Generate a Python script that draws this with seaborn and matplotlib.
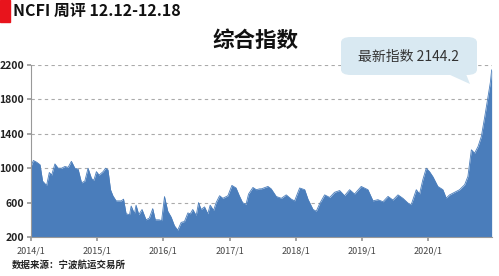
import matplotlib
matplotlib.use("Agg")
import matplotlib.pyplot as plt
import seaborn as sns
import pandas as pd
from matplotlib.patches import FancyBboxPatch, Polygon, Rectangle

sns.set_theme(style="white")
plt.rcParams['font.family'] = ['Noto Sans CJK SC', 'DejaVu Sans']

header = "NCFI 周评 12.12-12.18"
title = "综合指数"
callout = "最新指数 2144.2"
source = "数据来源：宁波航运交易所"

dates = [
    "2014-01-01", "2014-01-14", "2014-02-01", "2014-02-20", "2014-03-06", "2014-03-28",
    "2014-04-12", "2014-04-25", "2014-05-13", "2014-05-31", "2014-06-19", "2014-07-07",
    "2014-07-25", "2014-08-12", "2014-08-31", "2014-09-18", "2014-10-07", "2014-10-25",
    "2014-11-12", "2014-12-01", "2014-12-14", "2014-12-28", "2015-01-12", "2015-02-03",
    "2015-02-17", "2015-03-02", "2015-03-16", "2015-03-29", "2015-04-16", "2015-05-14",
    "2015-05-27", "2015-06-10", "2015-06-29", "2015-07-08", "2015-07-26", "2015-08-04",
    "2015-08-19", "2015-09-06", "2015-09-28", "2015-10-16", "2015-11-04", "2015-11-18",
    "2015-12-10", "2015-12-23", "2016-01-08", "2016-01-26", "2016-02-14", "2016-03-03",
    "2016-03-21", "2016-04-09", "2016-04-27", "2016-05-16", "2016-05-29", "2016-06-12",
    "2016-07-01", "2016-07-14", "2016-07-28", "2016-08-16", "2016-09-03", "2016-09-16",
    "2016-10-05", "2016-10-19", "2016-11-07", "2016-11-25", "2016-12-23", "2017-01-14",
    "2017-02-06", "2017-02-24", "2017-03-14", "2017-04-02", "2017-04-16", "2017-05-10",
    "2017-05-29", "2017-06-16", "2017-06-26", "2017-08-01", "2017-08-19", "2017-09-16",
    "2017-10-14", "2017-11-10", "2017-12-08", "2017-12-26", "2018-01-23", "2018-02-20",
    "2018-03-10", "2018-04-07", "2018-04-25", "2018-05-14", "2018-06-10", "2018-07-08",
    "2018-08-04", "2018-09-01", "2018-09-28", "2018-10-26", "2018-11-22", "2018-12-29",
    "2019-02-04", "2019-03-04", "2019-03-31", "2019-04-28", "2019-05-26", "2019-06-22",
    "2019-07-20", "2019-08-16", "2019-09-13", "2019-10-01", "2019-10-29", "2019-11-16",
    "2019-12-04", "2019-12-23", "2020-01-10", "2020-01-29", "2020-02-25", "2020-03-24",
    "2020-04-11", "2020-04-30", "2020-05-27", "2020-06-24", "2020-07-22", "2020-08-09",
    "2020-08-28", "2020-09-15", "2020-10-04", "2020-10-22", "2020-11-10", "2020-11-28",
    "2020-12-11", "2020-12-18",
]
values = [
    1020, 1090, 1070, 1040, 850, 800,
    950, 920, 1050, 1000, 1000, 1020,
    1010, 1080, 1000, 990, 830, 850,
    1000, 880, 860, 960, 920, 960,
    1000, 980, 750, 680, 620, 620,
    640, 470, 460, 560, 470, 570,
    460, 520, 400, 420, 530, 400,
    400, 390, 670, 500, 430, 330,
    280, 370, 380, 480, 470, 520,
    450, 600, 520, 550, 470, 570,
    510, 600, 680, 650, 680, 800,
    770, 680, 600, 580, 700, 776,
    750, 760, 760, 788, 760, 671,
    650, 690, 640, 620, 770, 750,
    640, 520, 500, 590, 690, 660,
    720, 740, 680, 750, 700, 788,
    750, 620, 634, 610, 672, 630,
    690, 650, 595, 576, 750, 700,
    865, 1000, 960, 900, 788, 750,
    653, 690, 720, 750, 808, 905,
    1214, 1175, 1253, 1368, 1600, 1832,
    2000, 2144.2,
]
year_ticks = ["2014-01-01", "2015-01-01", "2016-01-01", "2017-01-01",
              "2018-01-01", "2019-01-01", "2020-01-01"]
year_labels = ["2014/1", "2015/1", "2016/1", "2017/1", "2018/1", "2019/1", "2020/1"]
y_ticks = [200, 600, 1000, 1400, 1800, 2200]

df = pd.DataFrame({"date": pd.to_datetime(dates), "value": values})

W, H = 499, 276
fig = plt.figure(figsize=(W / 100, H / 100), dpi=100)
ax = fig.add_axes([31 / W, 1 - 237 / H, (492 - 31) / W, (237 - 65) / H])

blue = "#4a7dbb"
sns.lineplot(data=df, x="date", y="value", ax=ax, color=blue, linewidth=0.6)
ax.fill_between(df["date"], 200, df["value"], color=blue, linewidth=0)

ax.set_ylim(200, 2200)
ax.set_xlim(pd.Timestamp("2014-01-01"), pd.Timestamp("2020-12-20"))
ax.set_yticks(y_ticks)
ax.set_yticklabels([str(v) for v in y_ticks], fontsize=7.5, color="#222222", fontweight="bold")
ax.set_xticks(pd.to_datetime(year_ticks))
ax.set_xticklabels(year_labels, fontsize=6.5, color="#444444")
ax.set_xlabel("")
ax.set_ylabel("")

for v in y_ticks[1:]:
    ax.axhline(v, color="#aaaaaa", linestyle=(0, (3, 3)), linewidth=0.8, zorder=0)

for s in ["top", "right"]:
    ax.spines[s].set_visible(False)
for s in ["left", "bottom"]:
    ax.spines[s].set_color("#999999")
    ax.spines[s].set_linewidth(0.8)
ax.tick_params(axis="x", length=3, color="#999999", pad=4, direction="out", bottom=True)
ax.tick_params(axis="y", length=3, color="#999999", pad=2, left=True)

# header
fig.patches.append(Rectangle((0, 1 - 22 / H), 10 / W, 22 / H, transform=fig.transFigure,
                             color="#e8141c", zorder=5))
fig.text(13 / W, 1 - 11 / H, header, fontsize=11.5, fontweight="bold", color="#111111",
         ha="left", va="center")

# title
fig.text(256 / W, 1 - 40 / H, title, fontsize=15.5, fontweight="bold", color="#111111",
         ha="center", va="center")

# callout bubble
bx0, by0, bx1, by1 = 341, 37, 477, 75
bubble_color = "#d9e9f2"
fig.patches.append(FancyBboxPatch((bx0 / W, 1 - by1 / H), (bx1 - bx0) / W, (by1 - by0) / H,
                                  boxstyle="round,pad=0,rounding_size=0.02",
                                  transform=fig.transFigure, facecolor=bubble_color,
                                  edgecolor="none", zorder=4))
fig.patches.append(Polygon([(448 / W, 1 - 74 / H), (466 / W, 1 - 74 / H), (470 / W, 1 - 84 / H)],
                           closed=True, transform=fig.transFigure, facecolor=bubble_color,
                           edgecolor="none", zorder=4))
fig.text(409 / W, 1 - 57 / H, callout, fontsize=10, color="#333333", ha="center", va="center",
         zorder=6)

# source
fig.text(12 / W, 1 - 265 / H, source, fontsize=6.8, fontweight="bold", color="#222222",
         ha="left", va="center")

fig.savefig("out.png", dpi=100)
